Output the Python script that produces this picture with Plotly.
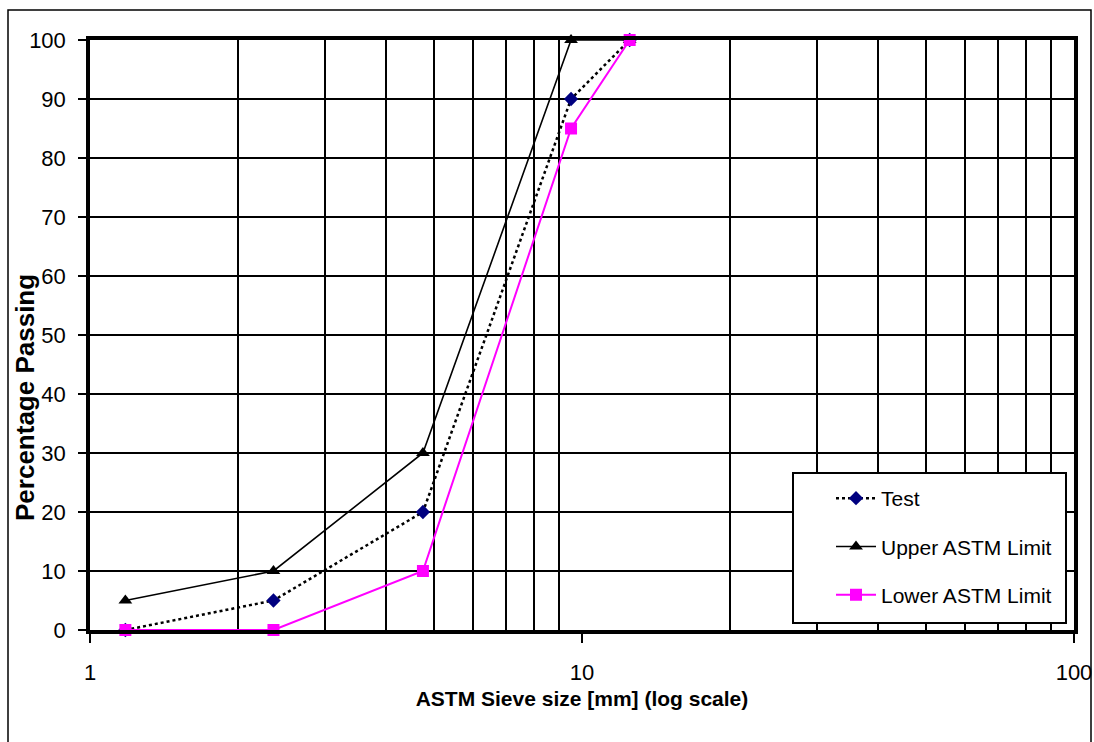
import plotly.graph_objects as go

sieve_mm = [1.18, 2.36, 4.75, 9.5, 12.5]
test_pass = [0, 5, 20, 90, 100]
upper_limit = [5, 10, 30, 100, 100]
lower_limit = [0, 0, 10, 85, 100]

x_major = [1, 10, 100]
x_minor = [2, 3, 4, 5, 6, 7, 8, 9, 20, 30, 40, 50, 60, 70, 80, 90]

FONT = "Liberation Sans, Arial, sans-serif"

fig = go.Figure()
fig.add_trace(go.Scatter(
    x=sieve_mm, y=test_pass, name="Test", mode="lines+markers",
    line=dict(color="black", width=2.5, dash="dot"),
    marker=dict(symbol="diamond", size=11, color="#000080"),
    legendgroup="a", cliponaxis=False))
fig.add_trace(go.Scatter(
    x=sieve_mm, y=upper_limit, name="Upper ASTM Limit", mode="lines+markers",
    line=dict(color="black", width=1.6),
    marker=dict(symbol="triangle-up", size=12, color="black"),
    legendgroup="b", cliponaxis=False))
fig.add_trace(go.Scatter(
    x=sieve_mm, y=lower_limit, name="Lower ASTM Limit", mode="lines+markers",
    line=dict(color="#ff00ff", width=2),
    marker=dict(symbol="square", size=12, color="#ff00ff"),
    legendgroup="c", cliponaxis=False))

L, R, T, B = 90, 20, 40, 112
W, H = 1094, 742
pw, ph = W - L - R, H - T - B

fig.update_layout(
    width=W, height=H,
    margin=dict(l=L, r=R, t=T, b=B, autoexpand=False),
    paper_bgcolor="white", plot_bgcolor="white",
    font=dict(family=FONT, size=22, color="black"),
    showlegend=True,
    legend=dict(
        x=(831 - L) / pw, y=(H - B - 478) / ph, xanchor="left", yanchor="top",
        bgcolor="rgba(0,0,0,0)", borderwidth=0,
        font=dict(family=FONT, size=21, color="black"),
        tracegroupgap=18, itemwidth=40,
    ),
    xaxis=dict(
        type="log", range=[0, 2], automargin=False,
        tickvals=x_major, ticktext=[str(v) for v in x_major],
        ticks="outside", ticklen=9, tickwidth=1.5, tickcolor="black",
        ticklabelstandoff=11,
        showgrid=False,
        minor=dict(tickvals=x_minor, showgrid=True, gridcolor="black", gridwidth=1.5, ticks=""),
        showline=True, linecolor="black", linewidth=3.5, mirror=True,
        zeroline=False,
        title=dict(text="<b>ASTM Sieve size [mm] (log scale)</b>",
                   font=dict(family=FONT, size=21), standoff=8),
    ),
    yaxis=dict(
        range=[0, 100], dtick=10, automargin=False,
        ticks="outside", ticklen=8, tickwidth=1.5, tickcolor="black",
        ticklabelstandoff=8,
        showgrid=True, gridcolor="black", gridwidth=2,
        showline=True, linecolor="black", linewidth=3.5, mirror=True,
        zeroline=False,
    ),
)

# legend frame (white box with black border, drawn above the grid)
fig.add_shape(
    type="rect", xref="paper", yref="paper",
    x0=(793 - L) / pw, x1=(1066 - L) / pw,
    y0=(H - B - 623) / ph, y1=(H - B - 473) / ph,
    line=dict(color="black", width=2), fillcolor="white", layer="above")

# y-axis title placed as annotation (offset like the reference)
fig.add_annotation(
    text="<b>Percentage Passing</b>", textangle=-90,
    xref="paper", yref="paper",
    x=(25 - L) / pw, y=(H - B - 398) / ph, xanchor="center", yanchor="middle",
    showarrow=False, font=dict(family=FONT, size=26, color="black"))

# outer chart frame
fig.add_shape(
    type="rect", xref="paper", yref="paper",
    x0=(8 - L) / pw, x1=(1091 - L) / pw,
    y0=(H - B - 760) / ph, y1=(H - B - 10) / ph,
    line=dict(color="black", width=1.5), fillcolor="rgba(0,0,0,0)", layer="below")

fig.write_html("out.html")
